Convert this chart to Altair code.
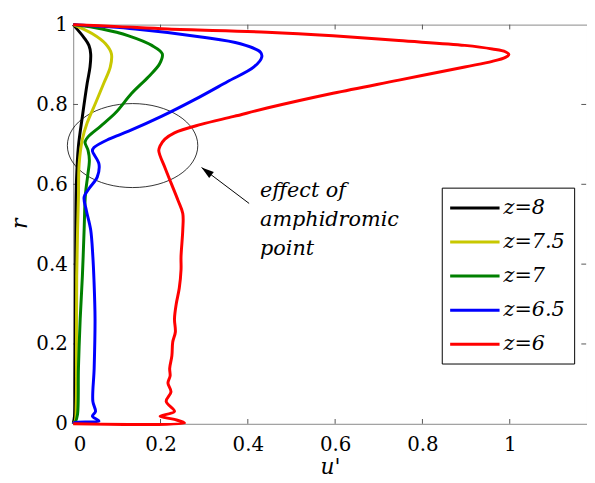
import altair as alt
import pandas as pd

series_names = ["z=8", "z=7.5", "z=7", "z=6.5", "z=6"]
series_colors = ["#000000", "#c8c800", "#008000", "#0000ff", "#ff0000"]

u_z8 = [0, 0.025, 0.036, 0.040, 0.0385, 0.032, 0.021, 0.012, 0.0075, 0.006, 0.005, 0.004, 0.003, 0]
r_z8 = [1, 0.967, 0.948, 0.927, 0.894, 0.853, 0.770, 0.696, 0.61, 0.5, 0.3, 0.1, 0.02, 0]

u_z75 = [0, 0.044, 0.074, 0.0875, 0.085, 0.070, 0.051, 0.032, 0.021, 0.0136, 0.012, 0.010, 0.008, 0.0075, 0.007, 0.0045, 0]
r_z75 = [1, 0.977, 0.952, 0.927, 0.894, 0.853, 0.803, 0.754, 0.713, 0.651, 0.568, 0.486, 0.37, 0.2, 0.05, 0.007, 0]

u_z7 = [0, 0.066, 0.127, 0.18, 0.204, 0.198, 0.172, 0.134, 0.097, 0.063, 0.035, 0.027, 0.034, 0.037,
        0.033, 0.028, 0.025, 0.021, 0.016, 0.012, 0.0098, 0.005, 0]
r_z7 = [1, 0.989, 0.972, 0.948, 0.927, 0.902, 0.869, 0.828, 0.779, 0.746, 0.720, 0.706, 0.685, 0.660,
        0.62, 0.575, 0.486, 0.37, 0.263, 0.139, 0.023, 0.005, 0]

u_z65 = [0, 0.142, 0.293, 0.383, 0.429, 0.432, 0.414, 0.353, 0.278, 0.202, 0.127, 0.0815, 0.0475, 0.044,
         0.059, 0.055, 0.036, 0.025, 0.030, 0.040, 0.045, 0.0475, 0.050, 0.048, 0.045, 0.051, 0.044, 0.059,
         0.003, 0]
r_z65 = [1, 0.989, 0.969, 0.952, 0.931, 0.919, 0.894, 0.857, 0.812, 0.770, 0.733, 0.713, 0.692, 0.684,
         0.651, 0.618, 0.589, 0.568, 0.535, 0.486, 0.419, 0.362, 0.263, 0.139, 0.056, 0.031, 0.019, 0.007,
         0.003, 0]

u_z6 = [0, 0.104, 0.217, 0.444, 0.595, 0.746, 0.897, 0.960, 0.990, 0.998, 0.990, 0.960, 0.897, 0.746,
        0.595, 0.444, 0.368, 0.293, 0.232, 0.21, 0.199, 0.196, 0.21, 0.225, 0.24, 0.251, 0.251, 0.247,
        0.247, 0.243, 0.236, 0.232, 0.234, 0.228, 0.226, 0.221, 0.222, 0.217, 0.224, 0.213, 0.232, 0.199,
        0.232, 0.255, 0]
r_z6 = [1, 0.995, 0.989, 0.981, 0.972, 0.960, 0.948, 0.939, 0.932, 0.925, 0.918, 0.908, 0.894, 0.861,
        0.828, 0.791, 0.770, 0.750, 0.729, 0.713, 0.696, 0.684, 0.642, 0.601, 0.560, 0.527, 0.486, 0.419,
        0.386, 0.34, 0.30, 0.263, 0.23, 0.205, 0.17, 0.139, 0.12, 0.102, 0.08, 0.056, 0.031, 0.019,
        0.011, 0.002, 0]

x_ticks = [0, 0.2, 0.4, 0.6, 0.8, 1]
y_ticks = [0, 0.2, 0.4, 0.6, 0.8, 1]
inner_x_ticks = [0.2, 0.4, 0.6, 0.8, 1.0]
inner_y_ticks = [0.2, 0.4, 0.6, 0.8]

annot_lines = ["effect of", "amphidromic", "point"]
annot_u, annot_r = 0.428, 0.567
ellipse_u, ellipse_r = 0.136, 0.697
arrow_tail = (0.403, 0.552)
arrow_head = (0.294, 0.642)

XMAX = 1.177
FONT = "DejaVu Serif"

rows = []
for name, us, rs in [("z=8", u_z8, r_z8), ("z=7.5", u_z75, r_z75), ("z=7", u_z7, r_z7),
                     ("z=6.5", u_z65, r_z65), ("z=6", u_z6, r_z6)]:
    for i, (u, r) in enumerate(zip(us, rs)):
        rows.append({"series": name, "u": u, "r": r, "i": i})
df = pd.DataFrame(rows)

xs = alt.Scale(domain=[0, XMAX], nice=False, zero=False)
ys = alt.Scale(domain=[0, 1], nice=False)

lines = alt.Chart(df).mark_line(strokeWidth=3, clip=False, interpolate="catmull-rom").encode(
    x=alt.X("u:Q", scale=xs, title="u'",
            axis=alt.Axis(values=x_ticks, format="~g", domain=False, ticks=False, grid=False,
                          labelPadding=11, labelFontSize=20, labelFont=FONT, labelColor="black",
                          titleFont=FONT, titleFontSize=22, titleFontStyle="italic",
                          titleFontWeight="normal", titleY=50, titleBaseline="alphabetic",
                          titleColor="black")),
    y=alt.Y("r:Q", scale=ys, title="r",
            axis=alt.Axis(values=y_ticks, format="~g", domain=False, ticks=False, grid=False,
                          labelPadding=6, labelFontSize=20, labelFont=FONT, labelColor="black",
                          titleFont=FONT, titleFontSize=22, titleFontStyle="italic",
                          titleFontWeight="normal", titleX=-54, titleY=201, titleAngle=270,
                          titleAlign="center", titleBaseline="middle", titleColor="black")),
    color=alt.Color("series:N", scale=alt.Scale(domain=series_names, range=series_colors),
                    legend=alt.Legend(title=None, orient="none", legendX=373, legendY=165,
                                      strokeColor="black", fillColor="white", padding=9,
                                      symbolType="M-2.5,0L2.5,0", symbolSize=400,
                                      symbolStrokeWidth=3, symbolOffset=13,
                                      labelFont=FONT, labelFontSize=21, labelFontStyle="italic",
                                      labelOffset=17.5, rowPadding=12.5, labelColor="black")),
    order=alt.Order("i:Q"),
    detail="series:N",
)

tick_color = "#555555"
bx = pd.DataFrame({"u": inner_x_ticks})
by = pd.DataFrame({"r": inner_y_ticks})
tb = alt.Chart(bx).mark_rule(color=tick_color, strokeWidth=1).encode(
    x=alt.X("u:Q", scale=xs), y=alt.datum(0, scale=ys), y2=alt.datum(0.012))
tt = alt.Chart(bx).mark_rule(color=tick_color, strokeWidth=1).encode(
    x=alt.X("u:Q", scale=xs), y=alt.datum(1, scale=ys), y2=alt.datum(0.988))
tl = alt.Chart(by).mark_rule(color=tick_color, strokeWidth=1).encode(
    y=alt.Y("r:Q", scale=ys), x=alt.datum(0, scale=xs), x2=alt.datum(0.011))
tr = alt.Chart(by).mark_rule(color=tick_color, strokeWidth=1).encode(
    y=alt.Y("r:Q", scale=ys), x=alt.datum(XMAX - 0.002, scale=xs), x2=alt.datum(XMAX - 0.013))

ell = alt.Chart(pd.DataFrame({"u": [ellipse_u], "r": [ellipse_r]})).mark_point(
    shape="M-1,0A1,0.644,0,1,0,1,0A1,0.644,0,1,0,-1,0Z", size=17424, filled=False,
    color="black", strokeWidth=0.8, opacity=1).encode(
    x=alt.X("u:Q", scale=xs), y=alt.Y("r:Q", scale=ys))

arr = alt.Chart(pd.DataFrame({"u": [arrow_tail[0]], "r": [arrow_tail[1]],
                              "u2": [arrow_head[0]], "r2": [arrow_head[1]]})).mark_rule(
    color="black", strokeWidth=1).encode(
    x=alt.X("u:Q", scale=xs), y=alt.Y("r:Q", scale=ys), x2="u2:Q", y2="r2:Q")

head = alt.Chart(pd.DataFrame({"u": [arrow_head[0]], "r": [arrow_head[1]]})).mark_point(
    shape="M0,0L0.65,2.1L-0.65,2.1Z", size=144, filled=True, color="black", opacity=1,
    angle=306.9, strokeWidth=0).encode(
    x=alt.X("u:Q", scale=xs), y=alt.Y("r:Q", scale=ys))

txt = alt.Chart(pd.DataFrame({"u": [annot_u], "r": [annot_r]})).mark_text(
    text=annot_lines, align="left", baseline="alphabetic", font=FONT, fontSize=21,
    fontStyle="italic", lineHeight=29, color="black").encode(
    x=alt.X("u:Q", scale=xs), y=alt.Y("r:Q", scale=ys))

chart = alt.layer(tb, tt, tl, tr, ell, arr, head, txt, lines).properties(
    width=520, height=404,
    padding={"left": 66, "top": 14, "right": 0, "bottom": 49},
    autosize=alt.AutoSizeParams(type="none"),
    background="white",
).configure(font=FONT).configure_view(stroke="#888888", strokeWidth=1)

chart.save("out.html", embed_options={"renderer": "svg", "actions": False})
